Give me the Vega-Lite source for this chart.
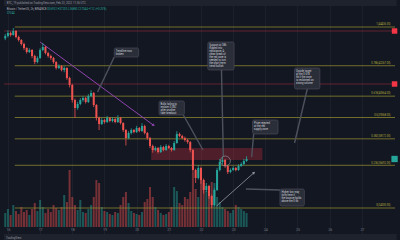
{
  "$schema": "https://vega.github.io/schema/vega-lite/v6.json",
  "width": 400,
  "height": 240,
  "autosize": "none",
  "padding": 0,
  "background": "#131722",
  "config": {"view": {"stroke": null}, "font": "Roboto"},
  "datasets": {
    "candles": [
      {"t": -2, "o": 43800, "hi": 44050, "lo": 43700, "c": 43932, "v": 4200},
      {"t": 0, "o": 43932, "hi": 44250, "lo": 43850, "c": 44100, "v": 5400},
      {"t": 2, "o": 44100, "hi": 44180, "lo": 43900, "c": 43988, "v": 3600},
      {"t": 4, "o": 43988, "hi": 44380, "lo": 43950, "c": 44212, "v": 6600},
      {"t": 6, "o": 44212, "hi": 44260, "lo": 43800, "c": 43876, "v": 4800},
      {"t": 8, "o": 43876, "hi": 43950, "lo": 43620, "c": 43708, "v": 3900},
      {"t": 10, "o": 43708, "hi": 43760, "lo": 43400, "c": 43484, "v": 6000},
      {"t": 12, "o": 43484, "hi": 43560, "lo": 43150, "c": 43260, "v": 4500},
      {"t": 14, "o": 43260, "hi": 43300, "lo": 42950, "c": 43036, "v": 5100},
      {"t": 16, "o": 43036, "hi": 43250, "lo": 42980, "c": 43148, "v": 3600},
      {"t": 18, "o": 43148, "hi": 43200, "lo": 42700, "c": 42812, "v": 5400},
      {"t": 20, "o": 42812, "hi": 42880, "lo": 42350, "c": 42476, "v": 7200},
      {"t": 22, "o": 42476, "hi": 42800, "lo": 42400, "c": 42700, "v": 4800},
      {"t": 24, "o": 42700, "hi": 43250, "lo": 42650, "c": 43148, "v": 8100},
      {"t": 26, "o": 43148, "hi": 43540, "lo": 43080, "c": 43316, "v": 6000},
      {"t": 28, "o": 43316, "hi": 43380, "lo": 42900, "c": 42980, "v": 4200},
      {"t": 30, "o": 42980, "hi": 43050, "lo": 42720, "c": 42812, "v": 5400},
      {"t": 32, "o": 42812, "hi": 42900, "lo": 42600, "c": 42700, "v": 4500},
      {"t": 34, "o": 42700, "hi": 42760, "lo": 42380, "c": 42476, "v": 6600},
      {"t": 36, "o": 42476, "hi": 42520, "lo": 42050, "c": 42140, "v": 5700},
      {"t": 38, "o": 42140, "hi": 42350, "lo": 42080, "c": 42252, "v": 5100},
      {"t": 40, "o": 42252, "hi": 42300, "lo": 41950, "c": 42028, "v": 6000},
      {"t": 42, "o": 42028, "hi": 42240, "lo": 41900, "c": 42140, "v": 9600},
      {"t": 44, "o": 42140, "hi": 42180, "lo": 41480, "c": 41580, "v": 7500},
      {"t": 46, "o": 41580, "hi": 41650, "lo": 41050, "c": 41188, "v": 17100},
      {"t": 48, "o": 41188, "hi": 41250, "lo": 40200, "c": 40348, "v": 9000},
      {"t": 50, "o": 40348, "hi": 40420, "lo": 39340, "c": 39900, "v": 6600},
      {"t": 52, "o": 39900, "hi": 40250, "lo": 39800, "c": 40124, "v": 5100},
      {"t": 54, "o": 40124, "hi": 40450, "lo": 40050, "c": 40348, "v": 8100},
      {"t": 56, "o": 40348, "hi": 40560, "lo": 40250, "c": 40460, "v": 4500},
      {"t": 58, "o": 40460, "hi": 40520, "lo": 40150, "c": 40236, "v": 4200},
      {"t": 60, "o": 40236, "hi": 40680, "lo": 40180, "c": 40572, "v": 5400},
      {"t": 62, "o": 40572, "hi": 40900, "lo": 40500, "c": 40740, "v": 6600},
      {"t": 64, "o": 40740, "hi": 40800, "lo": 39950, "c": 40068, "v": 9000},
      {"t": 66, "o": 40068, "hi": 40120, "lo": 39200, "c": 39340, "v": 14100},
      {"t": 68, "o": 39340, "hi": 39420, "lo": 38668, "c": 39004, "v": 13200},
      {"t": 70, "o": 39004, "hi": 39350, "lo": 38950, "c": 39228, "v": 6000},
      {"t": 72, "o": 39228, "hi": 39300, "lo": 39020, "c": 39116, "v": 4800},
      {"t": 74, "o": 39116, "hi": 39460, "lo": 39060, "c": 39340, "v": 4500},
      {"t": 76, "o": 39340, "hi": 39400, "lo": 39100, "c": 39172, "v": 3900},
      {"t": 78, "o": 39172, "hi": 39380, "lo": 39100, "c": 39284, "v": 3600},
      {"t": 80, "o": 39284, "hi": 39350, "lo": 39040, "c": 39116, "v": 4500},
      {"t": 82, "o": 39116, "hi": 39500, "lo": 39060, "c": 39340, "v": 4200},
      {"t": 84, "o": 39340, "hi": 39400, "lo": 38980, "c": 39060, "v": 6600},
      {"t": 86, "o": 39060, "hi": 39100, "lo": 38560, "c": 38668, "v": 9000},
      {"t": 88, "o": 38668, "hi": 38720, "lo": 37800, "c": 38220, "v": 10500},
      {"t": 90, "o": 38220, "hi": 38600, "lo": 38150, "c": 38500, "v": 7200},
      {"t": 92, "o": 38500, "hi": 38760, "lo": 38420, "c": 38668, "v": 4800},
      {"t": 94, "o": 38668, "hi": 38720, "lo": 38480, "c": 38556, "v": 4200},
      {"t": 96, "o": 38556, "hi": 38900, "lo": 38500, "c": 38780, "v": 3900},
      {"t": 98, "o": 38780, "hi": 38840, "lo": 38540, "c": 38612, "v": 3600},
      {"t": 100, "o": 38612, "hi": 39050, "lo": 38560, "c": 38892, "v": 4500},
      {"t": 102, "o": 38892, "hi": 38960, "lo": 38420, "c": 38500, "v": 7500},
      {"t": 104, "o": 38500, "hi": 38560, "lo": 38120, "c": 38220, "v": 8400},
      {"t": 106, "o": 38220, "hi": 38280, "lo": 37650, "c": 37772, "v": 12000},
      {"t": 108, "o": 37772, "hi": 37850, "lo": 37400, "c": 37548, "v": 9000},
      {"t": 110, "o": 37548, "hi": 37760, "lo": 37480, "c": 37660, "v": 6000},
      {"t": 112, "o": 37660, "hi": 37720, "lo": 37350, "c": 37436, "v": 5100},
      {"t": 114, "o": 37436, "hi": 37820, "lo": 37380, "c": 37716, "v": 4200},
      {"t": 116, "o": 37716, "hi": 37780, "lo": 37480, "c": 37548, "v": 3600},
      {"t": 118, "o": 37548, "hi": 37880, "lo": 37500, "c": 37772, "v": 3900},
      {"t": 120, "o": 37772, "hi": 37840, "lo": 37600, "c": 37660, "v": 4500},
      {"t": 122, "o": 37660, "hi": 37720, "lo": 37460, "c": 37548, "v": 6000},
      {"t": 124, "o": 37548, "hi": 38050, "lo": 37500, "c": 37940, "v": 12000},
      {"t": 126, "o": 37940, "hi": 38600, "lo": 37900, "c": 38444, "v": 10800},
      {"t": 128, "o": 38444, "hi": 38520, "lo": 38260, "c": 38332, "v": 7200},
      {"t": 130, "o": 38332, "hi": 38400, "lo": 38150, "c": 38220, "v": 6600},
      {"t": 132, "o": 38220, "hi": 38300, "lo": 38020, "c": 38108, "v": 9000},
      {"t": 134, "o": 38108, "hi": 38180, "lo": 37900, "c": 37996, "v": 8400},
      {"t": 136, "o": 37996, "hi": 38050, "lo": 37420, "c": 37548, "v": 10500},
      {"t": 138, "o": 37548, "hi": 37600, "lo": 36250, "c": 36428, "v": 16200},
      {"t": 140, "o": 36428, "hi": 36500, "lo": 35700, "c": 35980, "v": 11400},
      {"t": 142, "o": 35980, "hi": 36700, "lo": 35900, "c": 36540, "v": 9000},
      {"t": 144, "o": 36540, "hi": 36620, "lo": 35650, "c": 35868, "v": 14100},
      {"t": 146, "o": 35868, "hi": 35950, "lo": 35100, "c": 35308, "v": 13200},
      {"t": 148, "o": 35308, "hi": 35700, "lo": 35200, "c": 35532, "v": 10800},
      {"t": 150, "o": 35532, "hi": 35600, "lo": 34800, "c": 34972, "v": 12000},
      {"t": 152, "o": 34972, "hi": 35050, "lo": 34300, "c": 34468, "v": 13500},
      {"t": 154, "o": 34468, "hi": 35400, "lo": 34400, "c": 35308, "v": 13200},
      {"t": 156, "o": 35308, "hi": 36550, "lo": 35250, "c": 36428, "v": 9000},
      {"t": 158, "o": 36428, "hi": 37050, "lo": 36350, "c": 36876, "v": 7500},
      {"t": 160, "o": 36876, "hi": 37150, "lo": 36750, "c": 36988, "v": 6000},
      {"t": 162, "o": 36988, "hi": 37050, "lo": 36550, "c": 36652, "v": 5400},
      {"t": 164, "o": 36652, "hi": 36720, "lo": 36200, "c": 36316, "v": 4800},
      {"t": 166, "o": 36316, "hi": 36520, "lo": 36250, "c": 36428, "v": 4200},
      {"t": 168, "o": 36428, "hi": 36640, "lo": 36380, "c": 36540, "v": 5100},
      {"t": 170, "o": 36540, "hi": 36600, "lo": 36350, "c": 36428, "v": 6600},
      {"t": 172, "o": 36428, "hi": 36750, "lo": 36380, "c": 36652, "v": 6000},
      {"t": 174, "o": 36652, "hi": 36850, "lo": 36600, "c": 36764, "v": 5400},
      {"t": 176, "o": 36764, "hi": 37050, "lo": 36700, "c": 36932, "v": 4800},
      {"t": 178, "o": 36932, "hi": 37200, "lo": 36880, "c": 37044, "v": 4200}
    ],
    "grid": [
      {"p": 33000}, {"p": 34000}, {"p": 35000}, {"p": 36000}, {"p": 37000},
      {"p": 38000}, {"p": 39000}, {"p": 40000}, {"p": 41000}, {"p": 42000},
      {"p": 43000}, {"p": 44000}, {"p": 45000}
    ],
    "fib": [
      {"t": 5.1, "t2": 288.73, "p": 34300, "label": "0(34300.00)"},
      {"t": 5.1, "t2": 288.73, "p": 36692, "label": "0.236(36692.00)"},
      {"t": 5.1, "t2": 288.73, "p": 38172, "label": "0.382(38172.00)"},
      {"t": 5.1, "t2": 288.73, "p": 39368, "label": "0.5(39368.00)"},
      {"t": 5.1, "t2": 288.73, "p": 40564, "label": "0.618(40564.00)"},
      {"t": 5.1, "t2": 288.73, "p": 42267, "label": "0.786(42267.00)"},
      {"t": 5.1, "t2": 288.73, "p": 44436, "label": "1(44436.00)"}
    ],
    "redlines": [
      {"t": -3, "t2": 288.73, "p": 44212},
      {"t": -3, "t2": 288.73, "p": 41244}
    ],
    "zone": [{"t": 106.9, "t2": 189.8, "p": 37660, "p2": 36988}],
    "trend": [{"t": 24, "p": 43596, "t2": 108.4, "p2": 38948}],
    "arrow": [{"t": 155.6, "p": 34412, "t2": 183.3, "p2": 36260}],
    "pointers": [
      {"t": 79.3, "p": 42756, "t2": 66.9, "p2": 40796},
      {"t": 130.9, "p": 39508, "t2": 145.5, "p2": 37548},
      {"t": 159.3, "p": 42028, "t2": 160.7, "p2": 37156},
      {"t": 223.3, "p": 40964, "t2": 213.8, "p2": 37940},
      {"t": 183.3, "p": 38444, "t2": 181.8, "p2": 37156},
      {"t": 202.9, "p": 35308, "t2": 177.5, "p2": 35364}
    ],
    "notes": [
      {"t": 79.3, "t2": 97.5, "p": 43260, "p2": 42756, "note": "Trendline now\nbroken"},
      {"t": 112.7, "t2": 131.6, "p": 40292, "p2": 39508, "note": "Bulls failing to\nreclaim 0.382\nafter another\nfake breakout"},
      {"t": 149.1, "t2": 168.7, "p": 43596, "p2": 42028, "note": "Support at 38k\nflipped into\nresistance. A\nclean break of\nthe red zone is\nneeded to turn\nthe short-term\ntrend bullish"},
      {"t": 213.8, "t2": 232.7, "p": 42140, "p2": 40964, "note": "Upside target\nat the 0.618\nfib if the zone\nis reclaimed on\nstrong volume"},
      {"t": 182.5, "t2": 201.5, "p": 39228, "p2": 38444, "note": "Price rejected\nat the red\nsupply zone"},
      {"t": 202.9, "t2": 221.1, "p": 35364, "p2": 34412, "note": "Higher low may\nform here if\nthe bounce holds\nabove the 0 fib"}
    ],
    "circle": [{"t": 162.2, "p": 36932}],
    "markers": [
      {"t": 288.4, "p": 44212, "kind": "alert"},
      {"t": 288.4, "p": 41244, "kind": "alert"},
      {"t": 288.4, "p": 37044, "kind": "last"}
    ],
    "strips": [
      {"t": -3, "t2": 290, "p": 46100, "p2": 45612},
      {"t": -3, "t2": 290, "p": 32844, "p2": 32400}
    ],
    "texts": [
      {"t": -0.9, "p": 45808, "txt": "BTC_19 published on TradingView.com, Feb 23, 2022 11:36 UTC", "role": "meta"},
      {"t": -0.9, "p": 45444, "txt": "Bitcoin / TetherUS, 2h, BINANCE", "role": "title"},
      {"t": 29.1, "p": 45444, "txt": "O36932 H37200 L36880 C37044 +112 (+0.30%)", "role": "ohlc"},
      {"t": -0.9, "p": 45220, "txt": "37044", "role": "ohlc"},
      {"t": -1.5, "p": 32620, "txt": "TradingView", "role": "meta"}
    ]
  },
  "encoding": {
    "x": {
      "field": "t",
      "type": "quantitative",
      "scale": {"domain": [-2.18, 288.73], "nice": false, "zero": false},
      "axis": {
        "title": null,
        "values": [0, 24, 48, 72, 96, 120, 144, 168, 192, 216, 240, 264],
        "labelExpr": "'' + (16 + datum.value / 24)",
        "orient": "bottom",
        "offset": -14,
        "domain": false,
        "ticks": false,
        "grid": true,
        "gridColor": "#1c202b",
        "gridWidth": 1,
        "labelColor": "#787b86",
        "labelFontSize": 3.5,
        "labelPadding": 1.5,
        "labelOverlap": false,
        "labelFlush": false
      }
    }
  },
  "layer": [
    {
      "data": {"name": "candles"},
      "mark": {"type": "bar", "size": 2, "opacity": 0.45},
      "encoding": {
        "y": {"field": "v", "type": "quantitative", "scale": {"domain": [-3900, 68100], "nice": false, "zero": false}, "axis": null},
        "color": {"condition": {"test": "datum.c >= datum.o", "value": "#26a69a"}, "value": "#ef5350"}
      }
    },
    {
      "encoding": {
        "y": {"field": "p", "type": "quantitative", "scale": {"domain": [32508, 45948], "nice": false, "zero": false}, "axis": null}
      },
      "layer": [
        {
          "data": {"name": "grid"},
          "mark": {"type": "rule", "color": "#1a1e29", "strokeWidth": 1},
          "encoding": {"x": {"datum": -2.18, "type": "quantitative"}, "x2": {"datum": 288.73}}
        },
        {
          "data": {"name": "zone"},
          "mark": {"type": "rect", "color": "#f23645", "opacity": 0.27},
          "encoding": {"x2": {"field": "t2"}, "y2": {"field": "p2"}}
        },
        {
          "data": {"name": "redlines"},
          "mark": {"type": "rule", "color": "#f23645", "opacity": 0.35, "strokeWidth": 1},
          "encoding": {"x2": {"field": "t2"}}
        },
        {
          "data": {"name": "fib"},
          "mark": {"type": "rule", "color": "#8a8530", "opacity": 0.8, "strokeWidth": 1},
          "encoding": {"x2": {"field": "t2"}}
        },
        {
          "data": {"name": "fib"},
          "mark": {"type": "text", "align": "right", "baseline": "bottom", "dx": -4.5, "dy": -0.3, "fontSize": 2.6, "color": "#b5ae3a"},
          "encoding": {"x": {"field": "t2", "type": "quantitative"}, "text": {"field": "label"}}
        },
        {
          "data": {"name": "trend"},
          "mark": {"type": "rule", "color": "#8e44ad", "strokeWidth": 1},
          "encoding": {"x2": {"field": "t2"}, "y2": {"field": "p2"}}
        },
        {
          "data": {"name": "trend"},
          "mark": {"type": "point", "shape": "triangle", "filled": true, "size": 10, "angle": 125.6, "color": "#8e44ad", "opacity": 1},
          "encoding": {"x": {"field": "t2", "type": "quantitative"}, "y": {"field": "p2", "type": "quantitative"}}
        },
        {
          "data": {"name": "candles"},
          "mark": {"type": "rule", "strokeWidth": 0.8},
          "encoding": {
            "y": {"field": "lo", "type": "quantitative", "scale": {"domain": [32508, 45948], "nice": false, "zero": false}, "axis": null},
            "y2": {"field": "hi"},
            "color": {"condition": {"test": "datum.c >= datum.o", "value": "#26a69a"}, "value": "#ef5350"}
          }
        },
        {
          "data": {"name": "candles"},
          "mark": {"type": "bar", "size": 2},
          "encoding": {
            "y": {"field": "o", "type": "quantitative", "scale": {"domain": [32508, 45948], "nice": false, "zero": false}, "axis": null},
            "y2": {"field": "c"},
            "color": {"condition": {"test": "datum.c >= datum.o", "value": "#26a69a"}, "value": "#ef5350"}
          }
        },
        {
          "data": {"name": "pointers"},
          "mark": {"type": "rule", "color": "#4f525d", "strokeWidth": 1.4},
          "encoding": {"x2": {"field": "t2"}, "y2": {"field": "p2"}}
        },
        {
          "data": {"name": "arrow"},
          "mark": {"type": "rule", "color": "#9598a1", "strokeWidth": 0.8},
          "encoding": {"x2": {"field": "t2"}, "y2": {"field": "p2"}}
        },
        {
          "data": {"name": "arrow"},
          "mark": {"type": "point", "shape": "triangle", "filled": true, "size": 10, "angle": 49, "color": "#9598a1", "opacity": 1},
          "encoding": {"x": {"field": "t2", "type": "quantitative"}, "y": {"field": "p2", "type": "quantitative"}}
        },
        {
          "data": {"name": "circle"},
          "mark": {"type": "point", "shape": "circle", "filled": false, "size": 100, "color": "#9598a1", "strokeWidth": 0.6, "opacity": 1}
        },
        {
          "data": {"name": "notes"},
          "mark": {"type": "rect", "color": "#2a2e39", "stroke": "#50535e", "strokeWidth": 0.6, "cornerRadius": 1.5},
          "encoding": {"x2": {"field": "t2"}, "y2": {"field": "p2"}}
        },
        {
          "data": {"name": "notes"},
          "mark": {"type": "text", "align": "left", "baseline": "top", "dx": 1.5, "dy": 1.5, "fontSize": 2.6, "lineHeight": 3.1, "lineBreak": "\n", "color": "#d1d4dc"},
          "encoding": {"text": {"field": "note"}}
        },
        {
          "data": {"name": "markers"},
          "transform": [{"filter": "datum.kind == 'alert'"}],
          "mark": {"type": "point", "shape": "square", "filled": true, "size": 30, "opacity": 1, "color": "#f23645"}
        },
        {
          "data": {"name": "markers"},
          "transform": [{"filter": "datum.kind == 'last'"}],
          "mark": {"type": "point", "shape": "square", "filled": true, "size": 40, "opacity": 1, "color": "#26a69a"}
        },
        {
          "data": {"name": "strips"},
          "mark": {"type": "rect", "color": "#1e222d"},
          "encoding": {"x2": {"field": "t2"}, "y2": {"field": "p2"}}
        },
        {
          "data": {"name": "texts"},
          "transform": [{"filter": "datum.role == 'meta'"}],
          "mark": {"type": "text", "align": "left", "baseline": "middle", "fontSize": 2.8, "color": "#9598a1"},
          "encoding": {"text": {"field": "txt"}}
        },
        {
          "data": {"name": "texts"},
          "transform": [{"filter": "datum.role == 'title'"}],
          "mark": {"type": "text", "align": "left", "baseline": "middle", "fontSize": 2.8, "color": "#b2b5be"},
          "encoding": {"text": {"field": "txt"}}
        },
        {
          "data": {"name": "texts"},
          "transform": [{"filter": "datum.role == 'ohlc'"}],
          "mark": {"type": "text", "align": "left", "baseline": "middle", "fontSize": 2.8, "color": "#26a69a"},
          "encoding": {"text": {"field": "txt"}}
        }
      ]
    }
  ],
  "resolve": {"scale": {"y": "independent"}}
}
